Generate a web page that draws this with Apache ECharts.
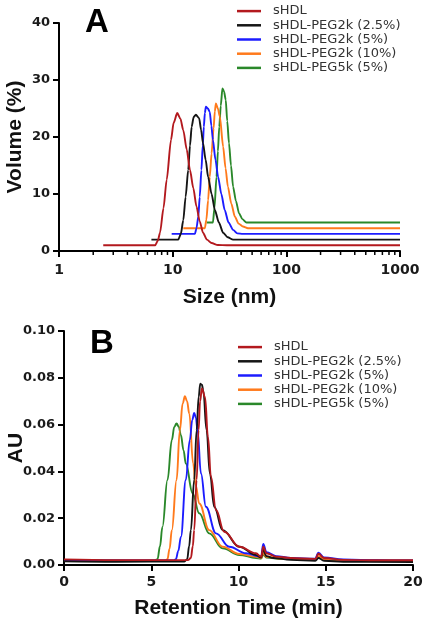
<!DOCTYPE html>
<html><head><meta charset="utf-8">
<script src="https://cdn.jsdelivr.net/npm/echarts@6/dist/echarts.min.js"></script>
<style>html,body{margin:0;padding:0;background:#fff}#c{width:430px;height:623px}</style>
</head><body><div id="c"></div>
<script>
// ---- Data ----
const seriesNames = ['sHDL', 'sHDL-PEG2k (2.5%)', 'sHDL-PEG2k (5%)', 'sHDL-PEG2k (10%)', 'sHDL-PEG5k (5%)'];
const seriesColors = ['#b3191e', '#151515', '#1c1cff', '#ff7a1c', '#2a882a'];

// Panel A: DLS size distribution [size (nm), volume (%)]
const dlsSHDL = [[2.45,1],[7.0,1],[7.4,1.8],[7.74,3.2],[8.3,7.5],[8.86,12.5],[9.67,19.5],[10.2,22.5],[10.97,24.2],[11.7,23.2],[12.4,21.2],[13.3,17.8],[14.2,14.2],[15.2,11],[16.2,7.8],[17.3,5.2],[18.5,3.2],[20,2],[22,1.4],[25,1.05],[30,1],[1000,1]];
const dlsPEG2k25 = [[6.5,2],[11.2,2],[11.8,3],[12.4,5.4],[13.0,9.5],[13.7,14.2],[14.2,18.5],[14.7,21.8],[15.3,23.5],[16.0,23.9],[17.1,23.3],[17.8,21.2],[18.5,18.9],[19.5,16],[20.5,13.0],[22,10],[23.5,7.2],[25.5,5],[27.8,3.2],[30.5,2.4],[34,2],[1000,2]];
const dlsPEG2k5 = [[9.8,3],[15.7,3],[16.2,4],[16.8,6.0],[17.3,9.5],[17.9,14.2],[18.4,18.5],[18.8,21.8],[19.2,24.2],[19.6,25.3],[20.4,25.0],[21.2,24.4],[21.9,22],[22.6,19.5],[23.8,16],[25.1,13.0],[26.8,10],[28.7,7.2],[31,5],[34,3.7],[37,3.1],[41.5,3],[1000,3]];
const dlsPEG2k10 = [[12.4,4],[19.2,4],[19.8,5.5],[20.5,8.9],[21.2,13],[22,17.1],[22.9,21.5],[23.5,24.5],[24,25.9],[25,25],[26,23.6],[27.8,18.3],[29.2,14.5],[30.6,11.3],[32.8,8.3],[35.3,6.0],[38,4.8],[41.5,4.3],[46,4],[1000,4]];
const dlsPEG5k5 = [[19.9,5],[22.6,5],[23.3,7.5],[24.3,13.0],[25,17.5],[25.7,21.8],[26.5,25.5],[27.4,28.5],[28.3,28],[29.3,26.5],[30.2,22.8],[31.3,18.9],[32.6,15],[34,11.3],[36,8.8],[38.4,6.6],[41,5.6],[44.6,5.0],[1000,5]];

// Panel B: SEC chromatogram [retention time (min), AU]
const secSHDL = [[0,0.0024],[3,0.0021],[7.1,0.0021],[7.27,0.003],[7.38,0.008],[7.46,0.0149],[7.60,0.0363],[7.71,0.0576],[7.80,0.070],[7.90,0.0754],[8.08,0.0718],[8.25,0.0548],[8.42,0.0377],[8.71,0.0235],[9.18,0.0142],[10.05,0.0078],[11.0,0.005],[11.3,0.0035],[11.42,0.0078],[11.6,0.005],[12.15,0.0036],[13,0.003],[14.4,0.0026],[14.58,0.0048],[14.9,0.003],[16,0.0022],[18,0.002],[20,0.002]];
const secPEG2k25 = [[0,0.0016],[3,0.0014],[6.9,0.0015],[7.06,0.0025],[7.17,0.008],[7.27,0.0149],[7.46,0.0363],[7.60,0.0576],[7.72,0.072],[7.81,0.0775],[7.90,0.077],[7.98,0.0747],[8.17,0.0576],[8.36,0.0391],[8.61,0.0249],[9.09,0.0149],[10.05,0.0078],[11.0,0.0043],[11.3,0.0032],[11.42,0.0065],[11.6,0.0038],[12,0.003],[13,0.0022],[14.4,0.0018],[14.58,0.003],[14.9,0.0018],[16,0.0014],[20,0.0013]];
const secPEG2k5 = [[0,0.0021],[3,0.0019],[6.3,0.0019],[6.41,0.0025],[6.55,0.006],[6.70,0.012],[6.98,0.0363],[7.21,0.0534],[7.35,0.062],[7.46,0.065],[7.56,0.063],[7.65,0.0576],[7.85,0.0391],[8.13,0.0249],[8.71,0.0135],[9.47,0.0078],[10.43,0.005],[11.29,0.0035],[11.42,0.009],[11.6,0.0055],[12.15,0.0038],[13,0.003],[14.4,0.0027],[14.58,0.0053],[14.9,0.0032],[16,0.0024],[18,0.002],[20,0.0019]];
const secPEG2k10 = [[0,0.0022],[3,0.0019],[5.8,0.0019],[5.93,0.0025],[6.05,0.007],[6.18,0.0149],[6.45,0.0363],[6.64,0.0576],[6.8,0.069],[6.93,0.0721],[7.05,0.070],[7.18,0.0647],[7.40,0.0434],[7.55,0.034],[7.75,0.0263],[8.32,0.0149],[9.09,0.0078],[10.05,0.0047],[11.0,0.0035],[11.3,0.003],[11.42,0.005],[11.6,0.0035],[12.5,0.0027],[14.4,0.0022],[14.58,0.0038],[14.9,0.0025],[16,0.002],[20,0.0018]];
const secPEG5k5 = [[0,0.0022],[2,0.002],[4,0.0018],[5.2,0.0019],[5.36,0.0025],[5.5,0.008],[5.64,0.0163],[5.93,0.0363],[6.18,0.0534],[6.32,0.059],[6.45,0.0605],[6.58,0.059],[6.70,0.0555],[6.85,0.049],[6.98,0.0434],[7.37,0.0306],[7.75,0.0221],[8.32,0.0135],[9.09,0.0071],[10.05,0.0043],[11.0,0.003],[11.3,0.0028],[11.42,0.0045],[11.6,0.0032],[12.5,0.0026],[14.4,0.0022],[14.58,0.0035],[14.9,0.0024],[16,0.002],[18,0.0019],[20,0.0018]];

const dlsData = [dlsSHDL, dlsPEG2k25, dlsPEG2k5, dlsPEG2k10, dlsPEG5k5];
const secData = [secSHDL, secPEG2k25, secPEG2k5, secPEG2k10, secPEG5k5];

// log-axis minor tick values (2..9 within each decade)
const minorTickValues = [2,3,4,5,6,7,8,9,20,30,40,50,60,70,80,90,200,300,400,500,600,700,800,900];

// ---- Chart ----
const chart = echarts.init(document.getElementById('c'), null, {renderer: 'canvas'});
const tickFont = {fontFamily: 'DejaVu Sans', fontWeight: 'bold', color: '#1a1a1a'};
const nameFont = {fontFamily: 'Liberation Sans', fontWeight: 'bold', fontSize: 21, color: '#111'};
const axisLine = {show: true, onZero: false, lineStyle: {color: '#000', width: 2}};
const axisTick = {show: true, inside: false, length: 6, lineStyle: {color: '#000', width: 2}};

const drawOrder = [4, 3, 2, 1, 0]; // sHDL drawn on top
const series = [];
drawOrder.forEach(i => {
  series.push({name: seriesNames[i], type: 'line', xAxisIndex: 0, yAxisIndex: 0, data: dlsData[i],
    symbol: 'none', showSymbol: false, smooth: 0.25, smoothMonotone: 'x', color: seriesColors[i],
    lineStyle: {width: 1.9, color: seriesColors[i]}, z: 3});
});
drawOrder.forEach(i => {
  series.push({name: seriesNames[i], type: 'line', xAxisIndex: 1, yAxisIndex: 1, data: secData[i],
    symbol: 'none', showSymbol: false, smooth: 0.4, smoothMonotone: 'x', color: seriesColors[i],
    lineStyle: {width: 1.9, color: seriesColors[i]}, z: 3});
});
series.push({
  type: 'custom', xAxisIndex: 0, yAxisIndex: 0, clip: false, silent: true, z: 5,
  data: minorTickValues.map(v => [v, 0]),
  renderItem: function (params, api) {
    const p = api.coord([api.value(0), 0]);
    return {type: 'line', shape: {x1: p[0], y1: p[1], x2: p[0], y2: p[1] + 4},
      style: {stroke: '#000', lineWidth: 1.5}};
  }
});

const legendCommon = {
  orient: 'vertical', itemWidth: 24, itemHeight: 2.5, itemGap: 0, icon: 'rect',
  textStyle: {fontFamily: 'DejaVu Sans', fontSize: 13, color: '#333', lineHeight: 14.2, padding: [0, 0, 0, 7]},
  data: seriesNames, selectedMode: false, padding: 0
};

chart.setOption({
  backgroundColor: '#fff',
  animation: false,
  grid: [
    {left: 59, top: 23, width: 341, height: 228, containLabel: false, outerBoundsMode: 'none'},
    {left: 64, top: 331, width: 349, height: 234, containLabel: false, outerBoundsMode: 'none'}
  ],
  legend: [
    Object.assign({}, legendCommon, {left: 237, top: 4}),
    Object.assign({}, legendCommon, {left: 238, top: 340})
  ],
  graphic: [
    {type: 'text', left: 85, top: 6, style: {text: 'A', font: 'bold 33px "Liberation Sans"', fill: '#000'}},
    {type: 'text', left: 90, top: 327, style: {text: 'B', font: 'bold 33px "Liberation Sans"', fill: '#000'}}
  ],
  xAxis: [
    {gridIndex: 0, type: 'log', logBase: 10, min: 1, max: 1000,
     axisLine: axisLine, axisTick: axisTick, splitLine: {show: false}, minorTick: {show: false},
     axisLabel: Object.assign({fontSize: 14, margin: 12, hideOverlap: false, formatter: v => String(v)}, tickFont),
     name: 'Size (nm)', nameLocation: 'middle', nameGap: 36, nameMoveOverlap: false, nameTextStyle: nameFont},
    {gridIndex: 1, type: 'value', min: 0, max: 20, interval: 5,
     axisLine: axisLine, axisTick: axisTick, splitLine: {show: false},
     axisLabel: Object.assign({fontSize: 14, margin: 10, hideOverlap: false}, tickFont),
     name: 'Retention Time (min)', nameLocation: 'middle', nameGap: 33, nameMoveOverlap: false, nameTextStyle: nameFont}
  ],
  yAxis: [
    {gridIndex: 0, type: 'value', min: 0, max: 40, interval: 10,
     axisLine: axisLine, axisTick: axisTick, splitLine: {show: false},
     axisLabel: Object.assign({fontSize: 13, margin: 9, hideOverlap: false}, tickFont),
     name: 'Volume (%)', nameLocation: 'middle', nameGap: 33, nameRotate: 90, nameMoveOverlap: false, nameTextStyle: nameFont},
    {gridIndex: 1, type: 'value', min: 0, max: 0.1, interval: 0.02,
     axisLine: axisLine, axisTick: axisTick, splitLine: {show: false},
     axisLabel: Object.assign({fontSize: 13, margin: 9, hideOverlap: false, formatter: v => v.toFixed(2)}, tickFont),
     name: 'AU', nameLocation: 'middle', nameGap: 37, nameRotate: 90, nameMoveOverlap: false, nameTextStyle: nameFont}
  ],
  series: series
});
</script>
</body></html>
